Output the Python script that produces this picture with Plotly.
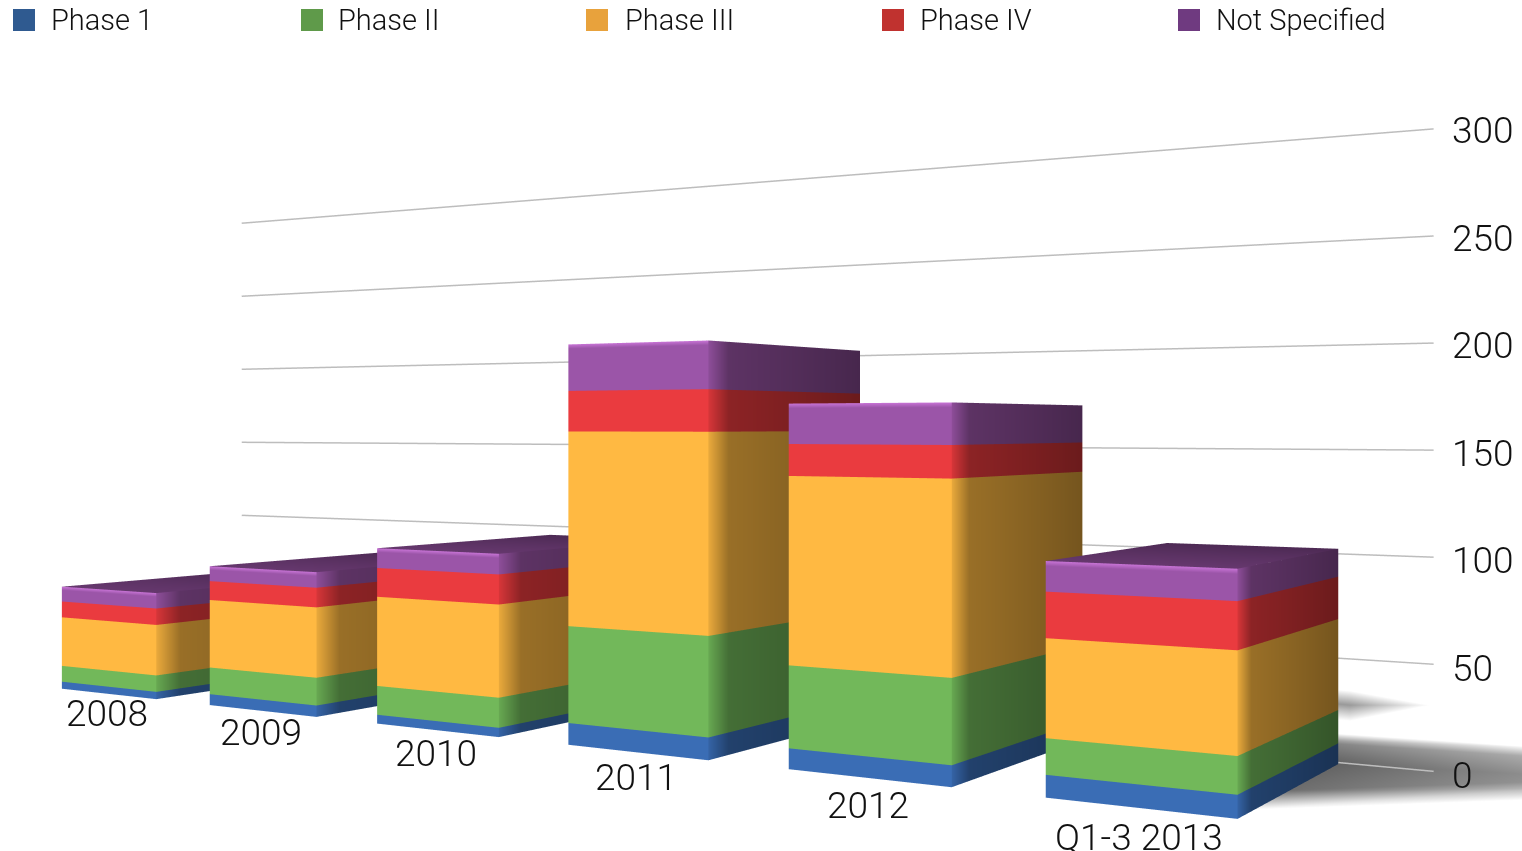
import plotly.graph_objects as go

categories = ["2008", "2009", "2010", "2011", "2012", "Q1-3 2013"]
phase_1 = [4.3, 6.3, 4.8, 11, 9.8, 9.9]
phase_2 = [9.7, 15.4, 15.6, 49, 39, 15.9]
phase_3 = [29.8, 39, 48.3, 98.5, 89, 43.4]
phase_4 = [9.7, 10.9, 15.6, 20.5, 15, 20.2]
not_specified = [9.1, 8.6, 10.7, 23.5, 19, 13.3]
series_names = ["Phase 1", "Phase II", "Phase III", "Phase IV", "Not Specified"]
tick_values = [0, 50, 100, 150, 200, 250, 300]

bar_colors = ["#3A6DB5", "#72B85A", "#FFB942", "#EA3B3F", "#9B55A8"]
legend_colors = ["#2F5A90", "#5F9A4A", "#E8A23C", "#C0322F", "#6F3A80"]
legend_swatch_px = [13, 301, 586, 882, 1178]
legend_text_px = [51, 338, 625, 920, 1216]
FONT = "Roboto, Liberation Sans, sans-serif"
W, H = 1522, 851

# world geometry: x and y are in units of 50 value-units
START, STEP, WIDTH = -0.93, 2.33, 1.52
Y_FRONT, Y_BACK = -1.85, -0.05
DX = 1.08  # how far the back edge is sheared to the right
UNLIT = dict(ambient=1, diffuse=0, specular=0, fresnel=0)


def shade(hex_color, f):
    r, g, b = (int(hex_color[i:i + 2], 16) for i in (1, 3, 5))
    return f"rgb({int(r * f)},{int(g * f)},{int(b * f)})"


def bar_mesh(values, lows, color, is_top):
    xs, ys, zs, vc, i, j, k = [], [], [], [], [], [], []

    def quad(pts, cols):
        n = len(xs)
        for p, c in zip(pts, cols):
            xs.append(p[0]); ys.append(p[1]); zs.append(p[2]); vc.append(c)
        i.extend([n, n]); j.extend([n + 1, n + 2]); k.extend([n + 2, n + 3])

    for b, (v, lo) in enumerate(zip(values, lows)):
        x0 = START + STEP * b
        x1 = x0 + WIDTH
        hi = lo + v
        c = shade(color, 1.0)
        edge, near, far = shade(color, 0.92), shade(color, 0.6), shade(color, 0.46)
        if is_top:
            glow = "#C874D6"
            mid = hi - 2.2
            quad([(x0, Y_FRONT, lo), (x1, Y_FRONT, lo), (x1, Y_FRONT, mid), (x0, Y_FRONT, mid)], [c] * 4)
            quad([(x0, Y_FRONT, mid), (x1, Y_FRONT, mid), (x1, Y_FRONT, hi), (x0, Y_FRONT, hi)], [c, c, glow, glow])
        else:
            quad([(x0, Y_FRONT, lo), (x1, Y_FRONT, lo), (x1, Y_FRONT, hi), (x0, Y_FRONT, hi)], [c] * 4)
        s = 0.12
        xm, ym = x1 + DX * s, Y_FRONT + (Y_BACK - Y_FRONT) * s
        quad([(x1, Y_FRONT, lo), (xm, ym, lo), (xm, ym, hi), (x1, Y_FRONT, hi)], [edge, near, near, edge])
        quad([(xm, ym, lo), (x1 + DX, Y_BACK, lo), (x1 + DX, Y_BACK, hi), (xm, ym, hi)], [near, far, far, near])
        if is_top:
            t1, t2 = shade(color, 0.66), shade(color, 0.5)
            quad([(x0, Y_FRONT, hi), (x1, Y_FRONT, hi), (x1 + DX, Y_BACK, hi), (x0 + DX, Y_BACK, hi)],
                 [t1, t1, t2, t2])
    return xs, ys, zs, vc, i, j, k


fig = go.Figure()
all_series = [phase_1, phase_2, phase_3, phase_4, not_specified]
lows = [0.0] * len(categories)
for idx, (name, vals, col) in enumerate(zip(series_names, all_series, bar_colors)):
    xs, ys, zs, vc, i, j, k = bar_mesh(vals, lows, col, idx == 4)
    fig.add_trace(go.Mesh3d(x=xs, y=ys, z=zs, i=i, j=j, k=k, vertexcolor=vc, name=name,
                            showlegend=False, flatshading=True, hoverinfo="skip", lighting=UNLIT))
    lows = [a + b for a, b in zip(lows, vals)]

# soft floor shadow: rows of (left x, left y, right x, right y, left colour, right colour)
shadow_rows = [
    (12.4, 1.0, 15.4, 1.2, "#ffffff", "#ffffff"),
    (12.5, 0.6, 15.3, 0.85, "#707070", "#b0b0b0"),
    (12.6, -0.1, 15.6, 0.3, "#505050", "#a0a0a0"),
    (12.4, -1.1, 15.0, -0.15, "#686868", "#bcbcbc"),
    (12.3, -1.6, 14.8, -0.5, "#ffffff", "#ffffff"),
]
sx, sy, sc, si, sj, sk = [], [], [], [], [], []
for r, row in enumerate(shadow_rows):
    sx += [row[0], row[2]]; sy += [row[1], row[3]]; sc += [row[4], row[5]]
    if r < len(shadow_rows) - 1:
        a = 2 * r
        si += [a, a + 1]; sj += [a + 2, a + 2]; sk += [a + 1, a + 3]
fig.add_trace(go.Mesh3d(x=sx, y=sy, z=[-0.5] * len(sx), i=si, j=sj, k=sk, vertexcolor=sc,
                        showlegend=False, hoverinfo="skip", lighting=UNLIT))
fig.add_trace(go.Mesh3d(
    x=[13.9, 14.05, 14.78, 13.76, 12.5, 12.5, 12.5],
    y=[2.36, 3.09, 2.65, 1.64, 2.5, 3.2, 1.7],
    z=[-0.5] * 7,
    i=[0, 0, 4, 4, 4, 4], j=[1, 2, 1, 0, 5, 3], k=[2, 3, 0, 3, 1, 6],
    vertexcolor=["#9a9a9a", "#ffffff", "#ffffff", "#ffffff", "#9a9a9a", "#ffffff", "#ffffff"],
    showlegend=False, hoverinfo="skip", lighting=UNLIT))

for t in tick_values:
    fig.add_trace(go.Scatter3d(x=[0, 14.12], y=[0, 0], z=[t, t], mode="lines", showlegend=False,
                               hoverinfo="skip", line=dict(color="#bdbdbd", width=3)))

annots = []
for t in tick_values:
    annots.append(dict(x=14.25, y=0, z=t, text=str(t), showarrow=False, xanchor="left", yanchor="middle",
                       yshift=-3, font=dict(family=FONT, size=37, color="#111111", weight=300)))
for b, c in enumerate(categories):
    annots.append(dict(x=0.7 + 2.155 * b, y=-2.55, z=0, text=c, showarrow=False, xanchor="center", yanchor="middle",
                       xshift=-2, yshift=2, font=dict(family=FONT, size=37, color="#111111", weight=300)))

shapes = [dict(type="rect", xref="paper", yref="paper", x0=px / W, x1=(px + 22) / W, y0=1 - 31 / H, y1=1 - 9 / H,
               fillcolor=c, line=dict(width=0)) for px, c in zip(legend_swatch_px, legend_colors)]
paper_annots = [dict(xref="paper", yref="paper", x=tx / W, y=1 - 20 / H, text=n, showarrow=False,
                     xanchor="left", yanchor="middle", xshift=-2,
                     font=dict(family=FONT, size=29, color="#111111", weight=300))
                for tx, n in zip(legend_text_px, series_names)]

hidden = dict(visible=False)
fig.update_layout(
    width=W, height=H, margin=dict(l=0, r=0, t=0, b=0), paper_bgcolor="white",
    font=dict(family=FONT, color="#111111"), showlegend=False,
    shapes=shapes, annotations=paper_annots,
    scene=dict(
        domain=dict(x=[0, 1], y=[0, 1]),
        xaxis=dict(range=[-1, 19], **hidden),
        yaxis=dict(range=[-4, 4], **hidden),
        zaxis=dict(range=[-1, 310], **hidden),
        aspectmode="manual", aspectratio=dict(x=2.0, y=0.8, z=0.622),
        camera=dict(eye=dict(x=0.22, y=-1.109, z=0.014), center=dict(x=0.03, y=-0.54, z=0.014),
                    up=dict(x=0, y=0, z=1), projection=dict(type="perspective")),
        annotations=annots,
    ),
)
fig.write_html("out.html", config=dict(displayModeBar=False),
               post_script="document.body.style.margin='0';document.documentElement.style.overflow='hidden';")
